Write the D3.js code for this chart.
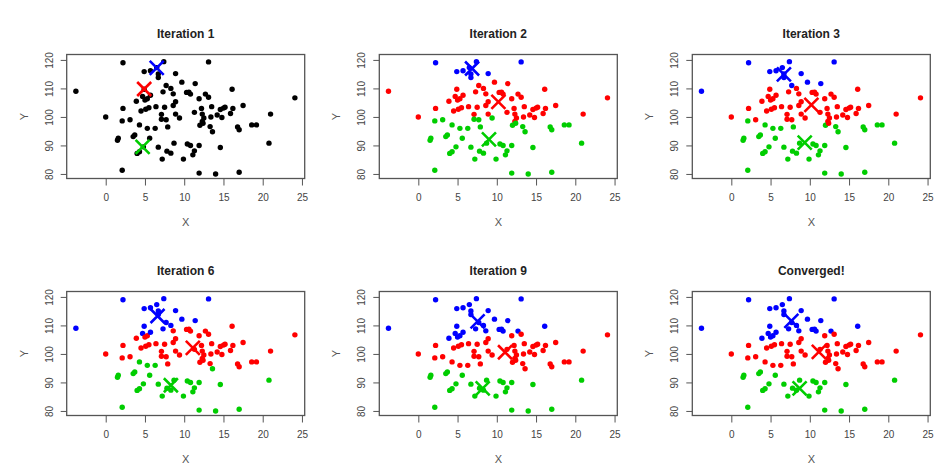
<!DOCTYPE html>
<html><head><meta charset="utf-8">
<script src="https://cdn.jsdelivr.net/npm/d3@7"></script>
<style>body{margin:0;background:#fff;}svg{display:block;font-family:"Liberation Sans",Arial,sans-serif;}</style>
</head><body>
<svg id="c" width="947" height="469"></svg>
<script>
// Data points (x, y)
const px = [2.2,4.9,5.7,7.4,6.7,6.7,8.9,13.1,6.5,
 -3.8,0.0,2.2,3.9,4.9,4.7,5.0,5.3,5.7,4.5,5.1,5.5,6.4,7.3,7.7,7.1,7.5,8.3,8.6,8.9,8.6,8.9,9.7,10.3,10.6,10.8,11.4,11.3,11.9,12.2,12.3,12.5,12.3,12.7,13.1,13.4,13.5,14.2,14.6,14.8,15.0,15.2,15.9,16.1,16.2,17.5,21.0,24.1,
 1.5,1.6,2.1,2.1,3.1,3.5,3.7,4.3,4.0,4.3,4.8,5.3,5.6,6.3,6.7,7.1,7.7,7.2,7.9,7.8,8.3,9.4,8.7,9.9,10.4,10.8,11.3,11.1,11.9,12.0,12.4,11.9,13.3,13.6,14.0,14.6,16.8,17.0,17.0,18.6,19.2,20.8];
const py = [119.0,115.9,116.2,119.4,113.8,115.1,115.2,119.3,117.3,
 109.0,100.0,103.0,105.5,109.7,107.2,105.9,106.4,107.6,102.1,102.7,103.2,103.6,108.8,111.0,100.9,103.4,110.0,108.1,105.3,104.0,101.0,112.2,108.6,108.7,108.0,111.7,101.6,106.4,103.0,101.0,99.6,98.4,108.0,106.9,100.0,103.6,100.7,102.6,99.8,103.1,103.4,101.2,109.7,103.0,104.0,101.0,106.7,
 91.8,92.5,81.3,98.6,99.0,93.1,93.7,97.2,87.2,87.8,89.5,96.0,92.5,96.0,89.4,99.2,99.0,85.2,96.5,88.0,87.3,99.6,90.8,85.2,90.5,90.0,88.1,86.7,90.0,97.1,97.8,80.3,96.6,94.8,80.0,89.3,96.5,95.5,80.6,97.2,97.2,90.8];

const titles = ["Iteration 1","Iteration 2","Iteration 3","Iteration 6","Iteration 9","Converged!"];

// Cluster membership per panel (point indices); points not listed as blue or green are red.
// Iteration 1: all points unassigned (black)
const blue2 = [0,1,2,3,4,5,6,7,8];
const green2 = d3.range(57, 99);
const blue3 = [0,1,2,3,4,5,6,7,8,9,23,31,35];
const green3 = [57,58,59,60,62,63,64,65,66,67,68,69,70,71,74,75,76,77,79,80,81,82,83,84,85,86,88,89,90,91,92,93,94,95,96,97,98];
const blue6 = [0,1,2,3,4,5,6,7,8,9,13,14,17,22,23,26,31,35];
const green6 = [57,58,59,62,63,64,65,66,67,68,69,70,71,74,76,77,79,80,81,82,83,84,85,88,90,91,92,95,98];
const blue9 = [0,1,2,3,4,5,6,7,8,9,12,13,14,15,16,17,22,23,26,27,31,32,33,34,35,42,52];
const green9 = [57,58,59,62,63,65,66,67,69,71,74,76,77,79,80,81,82,83,84,85,88,91,92,95,98];
const blueC = [0,1,2,3,4,5,6,7,8,9,12,13,14,15,16,17,22,23,26,27,31,32,33,34,35,42,52];
const greenC = [57,58,59,62,63,65,66,67,69,71,74,76,77,79,80,81,82,83,84,85,88,91,92,95,98];

const centroidsX = [[6.5,4.9,4.7],[6.85,10.2,9.0],[6.7,10.2,9.35],[6.6,11.1,8.3],[7.55,11.05,8.2],[7.65,11.15,8.7]];
const centroidsY = [[117.2,109.8,89.5],[117.0,105.3,92.1],[114.9,104.2,91.0],[113.3,102.1,89.0],[111.4,100.6,87.9],[111.6,100.7,87.9]];
const centroidColors = ["#0000FF","#FF0000","#00CD00"];

const xTicks = [0,5,10,15,20,25];
const yTicks = [80,90,100,110,120];

function build(blue, green){
  return px.map((_, i) => blue.includes(i) ? "b" : green.includes(i) ? "g" : "r");
}
const labels = [
  px.map(() => "k"),
  build(blue2, green2),
  build(blue3, green3),
  build(blue6, green6),
  build(blue9, green9),
  build(blueC, greenC)
];
const colorMap = {k:"#000000", b:"#0000FF", r:"#FF0000", g:"#00CD00"};

const svg = d3.select("#c");
const W = 238, H = 124;
const lefts = [66.7, 379.3, 692.3];
const tops = [54.5, 291.5];

titles.forEach((t, p) => {
  const col = p % 3, row = Math.floor(p/3);
  const g = svg.append("g").attr("transform", `translate(${lefts[col]},${tops[row]})`);
  const x = d3.scaleLinear().domain([-4.97, 25.35]).range([0, W]);
  const y = d3.scaleLinear().domain([78.4, 121.9]).range([H, 0]);

  g.append("text").attr("x", W/2).attr("y", -17).attr("text-anchor","middle")
    .attr("font-size", 12).attr("font-weight","bold").attr("fill","#222").text(t);

  const xa = g.append("g").attr("transform", `translate(0,${H})`)
    .call(d3.axisBottom(x).tickValues(xTicks).tickSize(7).tickSizeOuter(0).tickPadding(8));
  xa.select(".domain").remove();
  xa.selectAll("line").attr("stroke","#555");
  xa.selectAll("text").attr("font-size",10).attr("fill","#444").attr("font-family","Liberation Sans, Arial, sans-serif");

  const ya = g.append("g").call(d3.axisLeft(y).tickValues(yTicks).tickSize(6).tickSizeOuter(0).tickPadding(0));
  ya.select(".domain").remove();
  ya.selectAll("line").attr("stroke","#555");
  ya.selectAll("text").attr("font-size",10).attr("fill","#444").attr("font-family","Liberation Sans, Arial, sans-serif")
    .attr("text-anchor","middle").attr("x",0).attr("dy",0)
    .attr("transform","translate(-17.5,0) rotate(-90)").attr("dominant-baseline","central");

  g.append("rect").attr("width", W).attr("height", H).attr("fill","none").attr("stroke","#555").attr("stroke-width",1.3);

  g.append("text").attr("x", W/2).attr("y", H + 47).attr("text-anchor","middle")
    .attr("font-size",11).attr("fill","#555").text("X");
  g.append("text").attr("transform", `translate(-39,${H/2}) rotate(-90)`).attr("text-anchor","middle")
    .attr("font-size",11).attr("fill","#555").text("Y");

  const lab = labels[p];
  g.selectAll("circle.pt").data(px.map((v,i)=>({x:v, y:py[i], c:lab[i]})))
    .enter().append("circle").attr("class","pt")
    .attr("cx", d=>x(d.x)).attr("cy", d=>y(d.y)).attr("r", 2.7)
    .attr("fill", d=>colorMap[d.c]);

  centroidsX[p].forEach((cx, k) => {
    const X = x(cx), Y = y(centroidsY[p][k]), s = 7;
    g.append("path").attr("d", `M${X-s},${Y-s}L${X+s},${Y+s}M${X-s},${Y+s}L${X+s},${Y-s}`)
      .attr("stroke", centroidColors[k]).attr("stroke-width", 2.6).attr("fill","none");
  });
});
</script>
</body></html>
